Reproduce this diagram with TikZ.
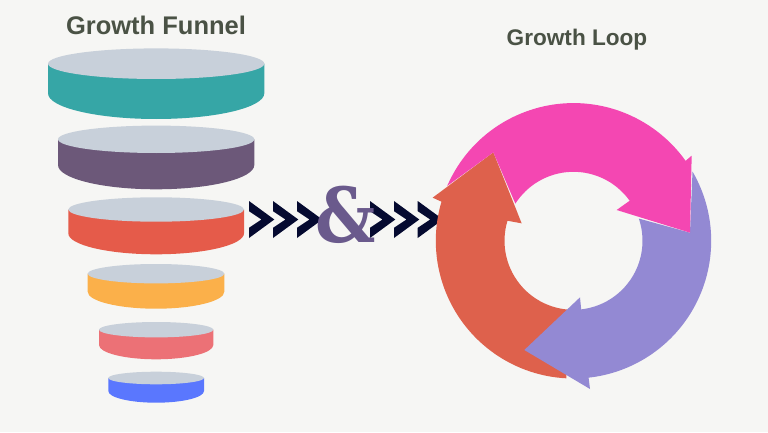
\documentclass[tikz,border=0pt]{standalone}
\usepackage{fontspec}
\setmainfont{Liberation Sans}
\newfontfamily\ampfont{DejaVu Serif}
\definecolor{bgc}{HTML}{F6F6F4}
\definecolor{topc}{HTML}{C8D0DA}
\definecolor{tealc}{HTML}{36A6A6}
\definecolor{plumc}{HTML}{6C5879}
\definecolor{redc}{HTML}{E55B4A}
\definecolor{yelc}{HTML}{FBB04A}
\definecolor{salc}{HTML}{EC7176}
\definecolor{bluec}{HTML}{5A77FE}
\definecolor{pinkc}{HTML}{F447B2}
\definecolor{lavc}{HTML}{9389D3}
\definecolor{oranc}{HTML}{DE614C}
\definecolor{navyc}{HTML}{050A30}
\definecolor{titlec}{HTML}{4A5245}
\definecolor{ampc}{HTML}{6A5A8C}
\newcommand{\Disk}[7]{% cx rx cy ry sideEnd-cy bottom-ry color (y measured down from top)
  \fill[#7] (#1-#2,432-#3) -- (#1-#2,432-#3-#5) arc[start angle=180,end angle=360,x radius=#2,y radius=#6]
     -- (#1+#2,432-#3) -- cycle;
  \fill[topc] (#1,432-#3) ellipse[x radius=#2,y radius=#4];
}
\newcommand{\Chev}[1]{%
  \fill[navyc] (#1,231) -- (#1+25.3,212.5) -- (#1,194) -- (#1,204.2) -- (#1+12.5,212.5) -- (#1,220.8) -- cycle;
}
\tikzset{x=1pt,y=1pt,
  titletext/.style={text=titlec,inner sep=0pt,anchor=center}}
\begin{document}
\begin{tikzpicture}
\fill[bgc] (0,0) rectangle (768,432);
\useasboundingbox (0,0) rectangle (768,432);
\node[titletext,font=\bfseries\fontsize{25.5}{28}\selectfont] (funnel) at (156,406.5) {Growth Funnel};
\node[titletext,font=\bfseries\fontsize{22.6}{25}\selectfont] (loop) at (577,392.5) {Growth Loop};
\Disk{156.15}{108.15}{63.7}{15.3}{29.6}{25.7}{tealc}
\Disk{156.15}{98.15}{139.3}{13.7}{25.7}{24.3}{plumc}
\Disk{156.15}{87.85}{209.5}{12.2}{23.8}{21}{redc}
\Disk{156}{68.3}{273.7}{9.7}{18}{17}{yelc}
\Disk{156.15}{57.15}{329.7}{7.7}{15.3}{14.3}{salc}
\Disk{156.15}{47.85}{378}{6.3}{13}{11.7}{bluec}
\foreach \x in {249,273,297,370,394,417.7}{\Chev{\x}}
\def\cx{573.5}\def\cy{191.2}\def\ro{137.7}\def\ri{69}
\newcommand{\Z}[2]{({420+(#1)/3},{342-(#2)/3})}
% orange
\fill[oranc] ({\cx+\ro*cos(-93)},{\cy+\ro*sin(-93)}) arc[start angle=-93,end angle=-196.5,radius=\ro]
  -- \Z{38}{323} -- \Z{220}{187} -- \Z{305}{400} -- ({\cx+\ri*cos(163.1)},{\cy+\ri*sin(163.1)})
  arc[start angle=163.1,end angle=264.5,radius=\ri] -- cycle;
% lavender
\fill[lavc] ({\cx+\ro*cos(30.2)},{\cy+\ro*sin(30.2)}) arc[start angle=30.2,end angle=-83.7,radius=\ro]
  -- \Z{510}{897} -- \Z{313}{780} -- \Z{480}{622} -- ({\cx+\ri*cos(-83.6)},{\cy+\ri*sin(-83.6)})
  arc[start angle=-83.6,end angle=18.8,radius=\ri] -- \Z{810}{428} -- cycle;
% pink
\fill[pinkc] ({\cx+\ro*cos(156.5)},{\cy+\ro*sin(156.5)}) arc[start angle=156.5,end angle=35.5,radius=\ro]
  -- \Z{815}{197} -- \Z{810}{428} -- \Z{590}{360} -- ({\cx+\ri*cos(35.5)},{\cy+\ri*sin(35.5)})
  arc[start angle=35.5,end angle=147.4,radius=\ri] -- \Z{220}{187} -- cycle;
\node[inner sep=0pt,xscale=0.88,text=ampc,font=\ampfont\bfseries\fontsize{76}{80}\selectfont] (amp) at (345.5,217) {\&};
\end{tikzpicture}
\end{document}
